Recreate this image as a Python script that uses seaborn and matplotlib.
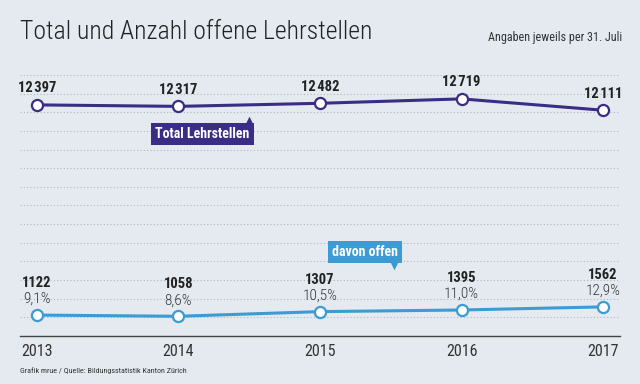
import matplotlib
matplotlib.use("Agg")
import matplotlib.pyplot as plt
import matplotlib.font_manager as fm
import seaborn as sns

# Daten
jahre = [2013, 2014, 2015, 2016, 2017]
total = [12397, 12317, 12482, 12719, 12111]
offen = [1122, 1058, 1307, 1395, 1562]
anteil = ["9,1%", "8,6%", "10,5%", "11,0%", "12,9%"]

# Farben
bg = "#e4eaef"
lila = "#3b2c85"
blau = "#3b9bd2"
text_dunkel = "#222222"

sns.set_style("white")

# Schmale Schrift wählen, falls vorhanden
vorhanden = {f.name for f in fm.fontManager.ttflist}


def waehle(*namen):
    for n in namen:
        if n in vorhanden:
            return n
    return "DejaVu Sans"


schmal = waehle("Roboto Condensed", "Liberation Sans Narrow", "DejaVu Sans")
plt.rcParams["font.family"] = [schmal, "DejaVu Sans"]


def tausender(v):
    s = str(v)
    return s[:-3] + "\u200a" + s[-3:]


fig = plt.figure(figsize=(6.4, 3.84), dpi=100, facecolor=bg)
ax = fig.add_axes([20 / 640, 48 / 384, 600 / 640, 261 / 384])
ax.set_facecolor(bg)

sns.lineplot(x=jahre, y=total, ax=ax, color=lila, lw=2.2, marker="o", markersize=8,
             markerfacecolor="white", markeredgecolor=lila, markeredgewidth=1.6, zorder=3)
sns.lineplot(x=jahre, y=offen, ax=ax, color=blau, lw=2.2, marker="o", markersize=8,
             markerfacecolor="white", markeredgecolor=blau, markeredgewidth=1.6, zorder=3)

ax.set_xlim(2012.88, 2017.12)
ax.set_ylim(0, 14000)
ax.set_yticks(range(1000, 15000, 1000))
ax.yaxis.grid(True, linestyle=(0, (1, 2)), color="#b0b8c0", lw=0.8)
ax.xaxis.grid(False)
ax.set_axisbelow(True)
ax.tick_params(axis="y", length=0, labelleft=False)

ax.set_xticks(jahre)
ax.set_xticklabels([str(j) for j in jahre], fontsize=11.5, color="#333333")
ax.tick_params(axis="x", direction="in", length=5, width=0.8, color="#666666", pad=6)
for s in ["top", "left", "right"]:
    ax.spines[s].set_visible(False)
ax.spines["bottom"].set_color("#444444")
ax.spines["bottom"].set_linewidth(1)
ax.set_xlabel("")
ax.set_ylabel("")

# Beschriftungen der Werte
for x, v in zip(jahre, total):
    ax.annotate(tausender(v), (x, v), xytext=(0, 12), textcoords="offset points",
                ha="center", va="center", fontsize=10.5, fontweight="bold", color=text_dunkel)

for x, v, p in zip(jahre, offen, anteil):
    ax.annotate(str(v), (x, v), xytext=(0, 23), textcoords="offset points",
                ha="center", va="center", fontsize=10.5, fontweight="bold", color=text_dunkel)
    ax.annotate(p, (x, v), xytext=(0, 11.5), textcoords="offset points",
                ha="center", va="center", fontsize=11, fontweight="light", color="#333333")

# Legenden-Kästchen
ax.text(2014.17, 10835, "Total Lehrstellen", ha="center", va="center", color="white",
        fontsize=10, fontweight="bold",
        bbox=dict(boxstyle="square,pad=0.3", fc=lila, ec="none"), zorder=4)
ax.scatter([2014.5], [11560], marker="^", s=30, color=lila, zorder=4, linewidths=0)

ax.text(2015.32, 4506, "davon offen", ha="center", va="center", color="white",
        fontsize=10, fontweight="bold",
        bbox=dict(boxstyle="square,pad=0.3", fc=blau, ec="none"), zorder=4)
ax.scatter([2015.52], [3750], marker="v", s=30, color=blau, zorder=4, linewidths=0)

# Titel und Texte
fig.text(20 / 640, 1 - 32 / 384, "Total und Anzahl offene Lehrstellen", ha="left", va="center",
         fontsize=18.5, fontweight="light", color=text_dunkel)
fig.text(622 / 640, 1 - 38 / 384, "Angaben jeweils per 31. Juli", ha="right", va="center",
         fontsize=8.7, color="#333333")
fig.text(20 / 640, 1 - 371 / 384, "Grafik mrue / Quelle: Bildungsstatistik Kanton Zürich",
         ha="left", va="center", fontsize=5.8, color="#333333")

fig.savefig("out.png", dpi=100, facecolor=bg)
